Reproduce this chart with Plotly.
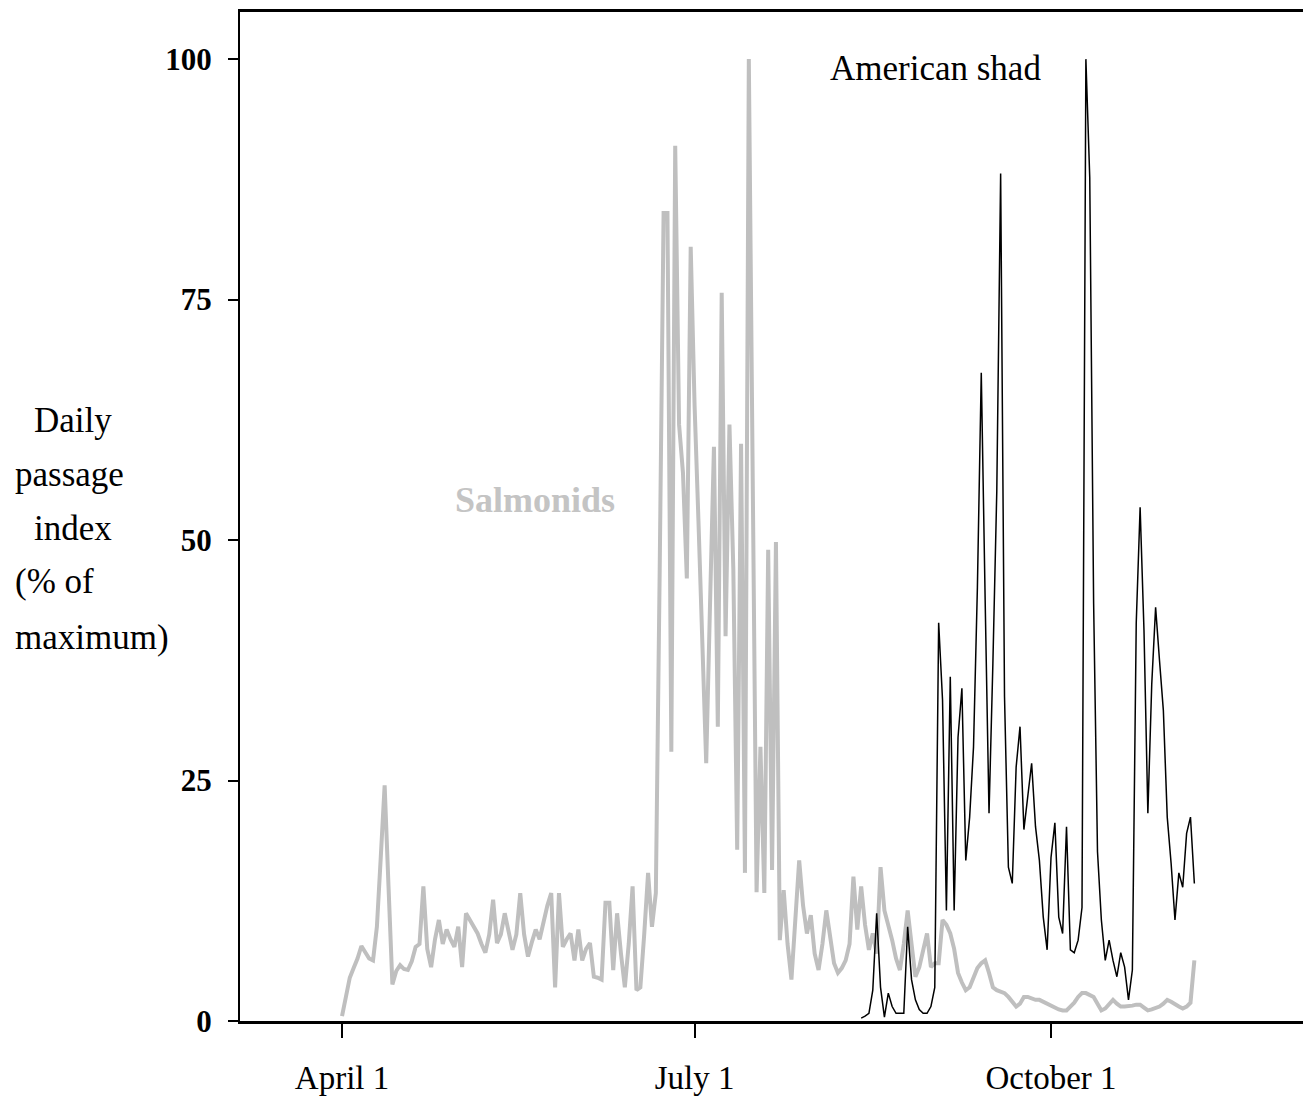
import plotly.graph_objects as go
from datetime import datetime, timedelta

# ---------------- data ----------------
salmonid_start = "2001-04-01"
salmonids = [
    0.5, 2.5, 4.5, 5.5, 6.5, 7.8, 7.2, 6.5, 6.3, 9.8,
    17, 24.5, 14, 3.8, 5.2, 5.8, 5.4, 5.3, 6.2, 7.7,
    8, 14, 7.5, 5.6, 8.5, 10.5, 8, 9.5, 8.5, 7.7,
    9.8, 5.6, 11.2, 10.5, 9.8, 9.1, 8, 7.1, 9, 12.6,
    8.1, 9, 11.2, 9.5, 7.4, 9, 13.3, 9, 6.7, 8.2,
    9.5, 8.5, 10.5, 12, 13.3, 3.5, 13.3, 7.7, 8.5, 9.1,
    6.3, 9.5, 6.3, 7.5, 8.1, 4.6, 4.5, 4.3, 12.3, 12.3,
    5.3, 11.2, 7, 3.5, 8, 14, 3.2, 3.5, 9, 15.4,
    9.8, 13.3, 47, 84, 84, 28, 91, 62, 57, 46,
    80.5, 64, 52, 39.6, 26.8, 43.5, 59.7, 30.6, 75.7, 40,
    62, 47, 17.8, 60, 15.4, 100, 56, 13.4, 28.5, 13.3,
    49, 15.7, 49.8, 8.4, 13.6, 8, 4.3, 10, 16.7, 12,
    9.1, 11, 7, 5.3, 8, 11.5, 9, 6, 5, 5.5,
    6.3, 8, 15, 9.5, 14, 10, 7.4, 9.1, 7, 16,
    11.5, 10, 8.4, 6.5, 5.3, 8, 11.5, 8, 4.6, 5.6,
    7.5, 9.1, 5.6, 6, 6, 10.5, 10, 9.1, 7.5, 5,
    4, 3.2, 3.5, 4.5, 5.5, 6, 6.3, 5, 3.5, 3.2,
    3, 2.9, 2.5, 2, 1.5, 1.8, 2.5, 2.5, 2.3, 2.2,
    2.2, 2, 1.8, 1.5, 1.3, 1.2, 1.1, 1.1, 1.5, 1.9,
    2.5, 2.9, 2.9, 2.7, 2.5, 1.8, 1.1, 1.3, 1.8, 2.2,
    1.8, 1.5, 1.5, 1.5, 1.6, 1.7, 1.7, 1.4, 1.1, 1.2,
    1.3, 1.5, 1.8, 2.2, 2, 1.7, 1.5, 1.3, 1.5, 1.9, 6.3,
]

shad_start = "2001-08-13"
shad = [
    0.3, 0.5, 0.8, 3.2, 11.2, 3.5, 0.4, 2.9, 1.5, 0.8,
    0.8, 0.8, 9.8, 4.3, 2.2, 1.2, 0.8, 0.8, 1.5, 3.5,
    41.4, 33.4, 11.5, 35.8, 11.5, 29.5, 34.6, 16.7, 21.2, 28.5,
    45.1, 67.4, 43.8, 21.6, 37.2, 55, 88.1, 33.7, 16, 14.3,
    26.4, 30.6, 19.9, 23.7, 26.8, 20.2, 16.7, 10.8, 7.4, 17,
    20.6, 10.8, 9.1, 20.2, 7.4, 7.1, 8.4, 11.8, 100, 87.7,
    43.4, 17.6, 10.5, 6.3, 8.4, 6.3, 4.6, 7.1, 5.6, 2.2,
    5.3, 41.4, 53.4, 40.6, 21.6, 35, 43, 37.5, 32.3, 21.2,
    16.4, 10.5, 15.4, 13.9, 19.5, 21.2, 14.3,
]

x_tick_dates = ["2001-04-01", "2001-07-01", "2001-10-01"]
x_tick_labels = ["April 1", "July 1", "October 1"]
y_ticks = [0, 25, 50, 75, 100]
y_title_lines = ["Daily", "passage", "index", "(% of", "maximum)"]


def daily_dates(start, n):
    s = datetime.strptime(start, "%Y-%m-%d")
    return [s + timedelta(days=i) for i in range(n)]


FONT = "Liberation Serif, Times New Roman, serif"
BODY = 8  # page body margin around the figure
W, H = 1311 - BODY, 1102 - BODY
# plot area in page pixels: x 240..1308, y 12..1021
ML, MT = 240 - BODY, 12 - BODY
PW, PH = 1068, 1009
MR = W - ML - PW
MB = H - MT - PH


def px_x(p):  # page pixel -> paper
    return (p - 240) / PW


def px_y(p):
    return (1021 - p) / PH


fig = go.Figure()
fig.add_trace(go.Scatter(
    x=daily_dates(salmonid_start, len(salmonids)), y=salmonids,
    mode="lines", line=dict(color="#bfbfbf", width=4), name="Salmonids"))
fig.add_trace(go.Scatter(
    x=daily_dates(shad_start, len(shad)), y=shad,
    mode="lines", line=dict(color="black", width=1.5), name="American shad"))

annotations = []
y_title_pos = [(32, 421), (13, 475), (32, 528), (13, 581), (13, 637)]
for txt, (xp, yp) in zip(y_title_lines, y_title_pos):
    annotations.append(dict(
        text=txt, xref="paper", yref="paper", x=px_x(xp), y=px_y(yp),
        xanchor="left", yanchor="middle", showarrow=False,
        font=dict(family=FONT, size=35, color="black")))
annotations.append(dict(
    text="Salmonids", xref="paper", yref="paper", x=px_x(535), y=px_y(500),
    xanchor="center", yanchor="middle", showarrow=False,
    font=dict(family=FONT, size=36, color="#c4c4c4", weight="bold")))
annotations.append(dict(
    text="American shad", xref="paper", yref="paper", x=px_x(935), y=px_y(68),
    xanchor="center", yanchor="middle", showarrow=False,
    font=dict(family=FONT, size=35, color="black")))

fig.update_layout(
    width=W, height=H,
    margin=dict(l=ML, r=MR, t=MT, b=MB, autoexpand=False),
    paper_bgcolor="white", plot_bgcolor="white",
    showlegend=False,
    annotations=annotations,
    xaxis=dict(
        type="date",
        range=["2001-03-05 16:00", "2001-12-06 08:00"],
        tickmode="array", tickvals=x_tick_dates, ticktext=x_tick_labels,
        ticks="outside", ticklen=14, tickwidth=1.5, tickcolor="black",
        showline=True, linecolor="black", linewidth=2.5, mirror=True,
        showgrid=False, zeroline=False,
        tickfont=dict(family=FONT, size=33, color="black"),
        ticklabelstandoff=12,
    ),
    yaxis=dict(
        range=[0, 104.9],
        tickmode="array", tickvals=y_ticks,
        ticks="outside", ticklen=10, tickwidth=1.5, tickcolor="black",
        showline=True, linecolor="black", linewidth=2, mirror=True,
        showgrid=False, zeroline=False,
        tickfont=dict(family=FONT, size=31, color="black", weight="bold"),
        ticklabelstandoff=10,
    ),
)

fig.write_html("out.html")
